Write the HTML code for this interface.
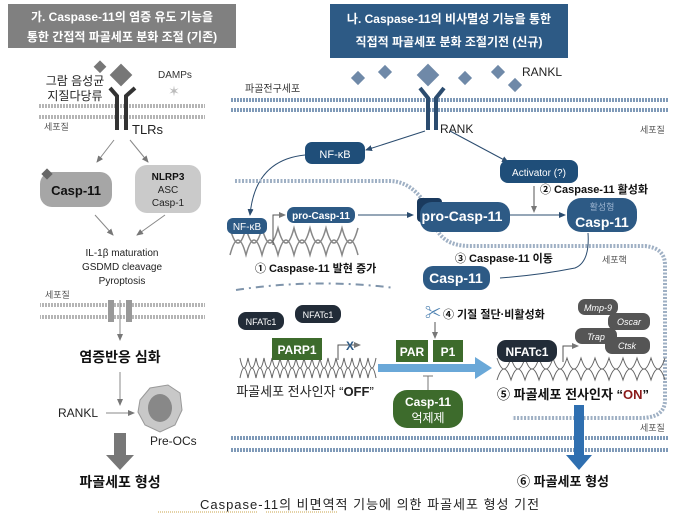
<!DOCTYPE html>
<html><head><meta charset="utf-8"><style>
body{margin:0;background:#fff;}
svg text{font-family:"Liberation Sans","Noto Sans CJK KR",sans-serif;}
</style></head><body>
<svg width="680" height="522" viewBox="0 0 680 522" xmlns="http://www.w3.org/2000/svg">
<defs>
<marker id="ag" markerWidth="8" markerHeight="8" refX="6" refY="3" orient="auto"><path d="M0,0 L7,3 L0,6z" fill="#777"/></marker>
<marker id="ab" markerWidth="8" markerHeight="8" refX="6" refY="3" orient="auto"><path d="M0,0 L7,3 L0,6z" fill="#2b4c6f"/></marker>
<pattern id="mem" width="3" height="4" patternUnits="userSpaceOnUse"><rect width="2" height="4" fill="#7f9ab8"/></pattern>
<pattern id="meml" width="3" height="4" patternUnits="userSpaceOnUse"><rect width="2" height="4" fill="#b5b5b5"/></pattern>
</defs>
<!-- headers -->
<rect x="8" y="4" width="228" height="44" fill="#808080"/>
<text x="122" y="21" fill="#fff" font-size="12" font-weight="bold" text-anchor="middle">가. Caspase-11의 염증 유도 기능을</text>
<text x="122" y="41" fill="#fff" font-size="12" font-weight="bold" text-anchor="middle">통한 간접적 파골세포 분화 조절 (기존)</text>
<rect x="330" y="4" width="238" height="54" fill="#2d5a85"/>
<text x="449" y="23" fill="#fff" font-size="12" font-weight="bold" text-anchor="middle">나. Caspase-11의 비사멸성 기능을 통한</text>
<text x="449" y="46" fill="#fff" font-size="12" font-weight="bold" text-anchor="middle">직접적 파골세포 분화 조절기전 (신규)</text>

<!-- LEFT -->
<rect x="38" y="104" width="167" height="4" fill="url(#meml)"/>
<rect x="38" y="115" width="167" height="4" fill="url(#meml)"/>
<rect x="96" y="62" width="9" height="9" fill="#777" transform="rotate(45 100 66)"/>
<rect x="113" y="67" width="16" height="16" fill="#777" transform="rotate(45 121 75)"/>
<text x="174" y="96" fill="#bbb" font-size="14" text-anchor="middle">✶</text>
<text x="158" y="78" font-size="10" fill="#333">DAMPs</text>
<text x="75" y="85" font-size="12" text-anchor="middle" fill="#222">그람 음성균</text>
<text x="75" y="100" font-size="12" text-anchor="middle" fill="#222">지질다당류</text>
<path d="M110,88 L117,96 L117,130 M135,88 L126,96 L126,130" stroke="#333" stroke-width="4" fill="none"/>
<text x="132" y="134" font-size="13" fill="#222">TLRs</text>
<text x="44" y="130" font-size="9" fill="#555">세포질</text>
<line x1="114" y1="140" x2="97" y2="162" stroke="#888" marker-end="url(#ag)"/>
<line x1="130" y1="140" x2="148" y2="162" stroke="#888" marker-end="url(#ag)"/>
<rect x="40" y="172" width="72" height="35" rx="12" fill="#a6a6a6"/>
<rect x="43" y="170" width="8" height="8" fill="#666" transform="rotate(45 47 174)"/>
<text x="76" y="195" font-size="13" font-weight="bold" text-anchor="middle" fill="#111">Casp-11</text>
<rect x="135" y="165" width="66" height="48" rx="12" fill="#cacaca"/>
<text x="168" y="180" font-size="10" font-weight="bold" text-anchor="middle" fill="#111">NLRP3</text>
<text x="168" y="193" font-size="10" text-anchor="middle" fill="#222">ASC</text>
<text x="168" y="206" font-size="10" text-anchor="middle" fill="#222">Casp-1</text>
<line x1="95" y1="215" x2="113" y2="235" stroke="#888" marker-end="url(#ag)"/>
<line x1="165" y1="215" x2="137" y2="235" stroke="#888" marker-end="url(#ag)"/>
<text x="122" y="256" font-size="10" text-anchor="middle" fill="#222">IL-1β maturation</text>
<text x="122" y="270" font-size="10" text-anchor="middle" fill="#222">GSDMD cleavage</text>
<text x="122" y="284" font-size="10" text-anchor="middle" fill="#222">Pyroptosis</text>
<text x="45" y="298" font-size="9" fill="#555">세포질</text>
<rect x="40" y="303" width="165" height="4" fill="url(#meml)"/>
<rect x="40" y="315" width="165" height="4" fill="url(#meml)"/>
<rect x="108" y="300" width="6" height="22" fill="#999"/><rect x="126" y="300" width="6" height="22" fill="#999"/>
<line x1="120" y1="300" x2="120" y2="340" stroke="#888" marker-end="url(#ag)"/>
<text x="120" y="362" font-size="14" font-weight="bold" text-anchor="middle" fill="#111">염증반응 심화</text>
<line x1="120" y1="372" x2="120" y2="405" stroke="#888" marker-end="url(#ag)"/>
<text x="58" y="417" font-size="12" fill="#222">RANKL</text>
<line x1="106" y1="413" x2="134" y2="413" stroke="#888" marker-end="url(#ag)"/>
<path d="M140,400 L150,388 L168,385 L180,393 L182,410 L175,425 L160,432 L145,425 L138,412z" fill="#c8c8c8" stroke="#999"/>
<ellipse cx="160" cy="408" rx="12" ry="14" fill="#888"/>
<text x="150" y="445" font-size="12" fill="#222">Pre-OCs</text>
<path d="M114,433 L126,433 L126,455 L134,455 L120,470 L106,455 L114,455z" fill="#777"/>
<text x="120" y="487" font-size="14" font-weight="bold" text-anchor="middle" fill="#111">파골세포 형성</text>

<!-- RIGHT -->
<g fill="#6f89a8">
<rect x="353" y="73" width="10" height="10" transform="rotate(45 358 78)"/>
<rect x="380" y="67" width="10" height="10" transform="rotate(45 385 72)"/>
<rect x="420" y="67" width="16" height="16" transform="rotate(45 428 75)"/>
<rect x="460" y="73" width="10" height="10" transform="rotate(45 465 78)"/>
<rect x="493" y="67" width="10" height="10" transform="rotate(45 498 72)"/>
<rect x="510" y="80" width="10" height="10" transform="rotate(45 515 85)"/>
</g>
<text x="522" y="76" font-size="12" fill="#222">RANKL</text>
<text x="245" y="92" font-size="10" fill="#333">파골전구세포</text>
<rect x="230" y="98" width="438" height="4" fill="url(#mem)"/>
<rect x="230" y="108" width="438" height="4" fill="url(#mem)"/>
<path d="M420,88 L428,98 L428,130 M444,88 L436,98 L436,130" stroke="#2b4c6f" stroke-width="4" fill="none"/>
<text x="440" y="133" font-size="12" fill="#222">RANK</text>
<text x="640" y="133" font-size="9" fill="#555">세포질</text>
<line x1="425" y1="131" x2="366" y2="150" stroke="#2b4c6f" marker-end="url(#ab)"/>
<line x1="450" y1="131" x2="508" y2="162" stroke="#2b4c6f" marker-end="url(#ab)"/>
<rect x="305" y="142" width="60" height="22" rx="7" fill="#1f4e79"/>
<text x="335" y="158" font-size="11" fill="#fff" text-anchor="middle">NF-κB</text>
<rect x="500" y="160" width="78" height="23" rx="8" fill="#1f4e79"/>
<text x="539" y="176" font-size="10" fill="#fff" text-anchor="middle">Activator (?)</text>
<path d="M305,155 Q255,160 250,215" stroke="#2b4c6f" fill="none" marker-end="url(#ab)"/>
<!-- nuclear envelope -->
<path d="M235,181 L390,181 Q420,182 435,225 Q442,246 470,246 L645,246 Q665,248 665,265 L665,400 Q665,418 640,418 L512,418" stroke="#9fb0c4" stroke-width="4" stroke-dasharray="2 1.5" fill="none"/>
<text x="540" y="193" font-size="11" font-weight="bold" fill="#111">② Caspase-11 활성화</text>
<line x1="534" y1="186" x2="534" y2="212" stroke="#555" marker-end="url(#ag)"/>
<!-- DNA left -->
<g stroke="#888" fill="none" stroke-width="1.5">
<path d="M230,228 q8,30 16,0 q8,30 16,0 q8,30 16,0 q8,30 16,0 q8,30 16,0 q8,30 16,0 q8,30 16,0 q8,30 16,0"/>
<path d="M230,255 q8,-30 16,0 q8,-30 16,0 q8,-30 16,0 q8,-30 16,0 q8,-30 16,0 q8,-30 16,0 q8,-30 16,0 q8,-30 16,0"/>
</g>
<rect x="227" y="218" width="40" height="16" rx="6" fill="#2d5a85"/>
<text x="247" y="230" font-size="10" fill="#fff" text-anchor="middle">NF-κB</text>
<path d="M273,245 L273,215 L285,215" stroke="#555" fill="none" marker-end="url(#ag)"/>
<rect x="287" y="207" width="68" height="16" rx="7" fill="#2d5a85"/>
<text x="321" y="219" font-size="10" font-weight="bold" fill="#fff" text-anchor="middle">pro-Casp-11</text>
<line x1="358" y1="215" x2="413" y2="215" stroke="#2b4c6f" marker-end="url(#ab)"/>
<rect x="417" y="198" width="25" height="24" rx="4" fill="#1a3a5e"/>
<rect x="420" y="202" width="90" height="30" rx="12" fill="#2d5a85"/>
<text x="462" y="221" font-size="14" font-weight="bold" fill="#fff" text-anchor="middle">pro-Casp-11</text>
<line x1="510" y1="215" x2="565" y2="215" stroke="#2b4c6f" marker-end="url(#ab)"/>
<rect x="567" y="198" width="70" height="34" rx="14" fill="#2d5a85"/>
<text x="602" y="210" font-size="9" fill="#9bb3cf" text-anchor="middle">활성형</text>
<text x="602" y="227" font-size="14" font-weight="bold" fill="#fff" text-anchor="middle">Casp-11</text>
<path d="M588,233 Q590,262 575,268 Q540,275 500,278" stroke="#2b4c6f" fill="none"/>
<text x="455" y="262" font-size="11" font-weight="bold" fill="#111">③ Caspase-11 이동</text>
<text x="602" y="263" font-size="9" fill="#555">세포핵</text>
<text x="255" y="272" font-size="11" font-weight="bold" fill="#111">① Caspase-11 발현 증가</text>
<path d="M236,290 Q315,278 395,288" stroke="#7f94ab" stroke-width="2" stroke-dasharray="8 5 2 5" fill="none"/>
<rect x="423" y="266" width="67" height="24" rx="10" fill="#2d5a85"/>
<text x="456" y="283" font-size="14" font-weight="bold" fill="#fff" text-anchor="middle">Casp-11</text>
<text x="425" y="318" font-size="16" fill="#4a7fb0">✂</text>
<text x="443" y="318" font-size="11" font-weight="bold" fill="#111">④ 기질 절단·비활성화</text>
<line x1="435" y1="322" x2="435" y2="338" stroke="#555" marker-end="url(#ag)"/>
<rect x="238" y="312" width="46" height="18" rx="8" fill="#222c38"/>
<text x="261" y="325" font-size="9" fill="#fff" text-anchor="middle">NFATc1</text>
<rect x="295" y="305" width="46" height="18" rx="8" fill="#222c38"/>
<text x="318" y="318" font-size="9" fill="#fff" text-anchor="middle">NFATc1</text>
<g fill="#555"><rect x="578" y="299" width="40" height="16" rx="7"/><rect x="608" y="313" width="42" height="17" rx="7"/><rect x="575" y="328" width="42" height="16" rx="7"/><rect x="605" y="337" width="45" height="17" rx="7"/></g>
<g font-size="9" font-style="italic" fill="#fff" text-anchor="middle"><text x="598" y="311">Mmp-9</text><text x="629" y="325">Oscar</text><text x="596" y="340">Trap</text><text x="627" y="349">Ctsk</text></g>
<!-- DNA OFF -->
<g stroke="#666" fill="none" stroke-width="1">
<path d="M240,358 q4,20 8,0 q4,20 8,0 q4,20 8,0 q4,20 8,0 q4,20 8,0 q4,20 8,0 q4,20 8,0 q4,20 8,0 q4,20 8,0 q4,20 8,0 q4,20 8,0 q4,20 8,0 q4,20 8,0 q4,20 8,0 q4,20 8,0 q4,20 8,0 q4,20 8,0"/>
<path d="M240,378 q4,-20 8,0 q4,-20 8,0 q4,-20 8,0 q4,-20 8,0 q4,-20 8,0 q4,-20 8,0 q4,-20 8,0 q4,-20 8,0 q4,-20 8,0 q4,-20 8,0 q4,-20 8,0 q4,-20 8,0 q4,-20 8,0 q4,-20 8,0 q4,-20 8,0 q4,-20 8,0 q4,-20 8,0"/>
</g>
<rect x="272" y="338" width="50" height="22" fill="#3d6b2c"/>
<text x="297" y="354" font-size="12" font-weight="bold" fill="#fff" text-anchor="middle">PARP1</text>
<path d="M338,360 L338,345 L360,345" stroke="#555" fill="none" marker-end="url(#ag)"/>
<text x="346" y="350" font-size="12" font-weight="bold" fill="#2d5a85">X</text>
<text x="305" y="396" font-size="13" fill="#222" text-anchor="middle">파골세포 전사인자 “<tspan font-weight="bold">OFF</tspan>”</text>
<path d="M378,364 L475,364 L475,357 L492,368 L475,379 L475,372 L378,372z" fill="#6aa8d8"/>
<rect x="396" y="340" width="32" height="22" fill="#3d6b2c"/><rect x="433" y="340" width="30" height="22" fill="#3d6b2c"/>
<text x="412" y="356" font-size="12" font-weight="bold" fill="#fff" text-anchor="middle">PAR</text>
<text x="448" y="356" font-size="12" font-weight="bold" fill="#fff" text-anchor="middle">P1</text>
<line x1="428" y1="376" x2="428" y2="390" stroke="#777"/><line x1="423" y1="376" x2="433" y2="376" stroke="#777"/>
<rect x="393" y="390" width="70" height="38" rx="14" fill="#3d6b2c"/>
<text x="428" y="406" font-size="12" font-weight="bold" fill="#fff" text-anchor="middle">Casp-11</text>
<text x="428" y="422" font-size="12" fill="#fff" text-anchor="middle">억제제</text>
<!-- DNA ON -->
<g stroke="#666" fill="none" stroke-width="1">
<path d="M497,358 q7,22 14,0 q7,22 14,0 q7,22 14,0 q7,22 14,0 q7,22 14,0 q7,22 14,0 q7,22 14,0 q7,22 14,0 q7,22 14,0 q7,22 14,0 q7,22 14,0 q7,22 14,0"/>
<path d="M497,380 q7,-22 14,0 q7,-22 14,0 q7,-22 14,0 q7,-22 14,0 q7,-22 14,0 q7,-22 14,0 q7,-22 14,0 q7,-22 14,0 q7,-22 14,0 q7,-22 14,0 q7,-22 14,0 q7,-22 14,0"/>
</g>
<rect x="497" y="340" width="60" height="22" rx="9" fill="#222c38"/>
<text x="527" y="356" font-size="12" font-weight="bold" fill="#fff" text-anchor="middle">NFATc1</text>
<path d="M563,362 L563,346 L578,346" stroke="#555" fill="none" marker-end="url(#ag)"/>
<text x="497" y="399" font-size="13" font-weight="bold" fill="#111">⑤ 파골세포 전사인자 “<tspan fill="#8b1a1a">ON</tspan>”</text>
<text x="640" y="431" font-size="9" fill="#555">세포질</text>
<rect x="230" y="436" width="438" height="4" fill="url(#mem)"/>
<rect x="230" y="448" width="438" height="4" fill="url(#mem)"/>
<path d="M574,405 L584,405 L584,455 L592,455 L579,470 L566,455 L574,455z" fill="#2f6fb0"/>
<text x="517" y="486" font-size="13" font-weight="bold" fill="#111">⑥ 파골세포 형성</text>
<text x="370" y="509" font-size="13" fill="#222" text-anchor="middle" letter-spacing="1">Caspase-11의 비면역적 기능에 의한 파골세포 형성 기전</text>
<line x1="158" y1="512" x2="258" y2="512" stroke="#c9a44c" stroke-dasharray="1 1"/>
<line x1="266" y1="512" x2="338" y2="512" stroke="#c9a44c" stroke-dasharray="1 1"/>
</svg>
</body></html>
